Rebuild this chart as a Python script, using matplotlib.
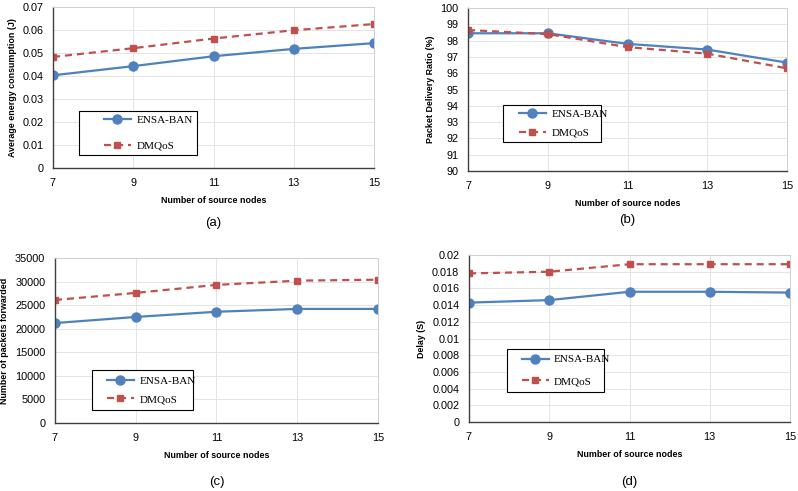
import matplotlib
matplotlib.use("Agg")
import matplotlib.pyplot as plt
from matplotlib.patches import Rectangle

nodes = [7, 9, 11, 13, 15]

energy_ensa = [0.0403, 0.0443, 0.0486, 0.0518, 0.0543]
energy_dmqos = [0.0483, 0.0521, 0.0563, 0.0599, 0.0626]

pdr_ensa = [98.45, 98.45, 97.8, 97.45, 96.65]
pdr_dmqos = [98.65, 98.4, 97.6, 97.2, 96.3]

fwd_ensa = [21200, 22500, 23600, 24200, 24200]
fwd_dmqos = [26100, 27600, 29300, 30200, 30400]

delay_ensa = [0.0143, 0.0146, 0.0156, 0.0156, 0.0155]
delay_dmqos = [0.0178, 0.0180, 0.0189, 0.0189, 0.0189]

BLUE = "#4F81BD"
RED = "#C0504D"
TICK_FONT = "Liberation Sans"

fig = plt.figure(figsize=(7.98, 4.91), dpi=100)


def panel(rect, ensa, dmqos, ylim, yticks, ytick_labels, ylabel, letter,
          leg_box, leg_inset, leg_spacing, letter_y):
    ax = fig.add_axes(rect)
    ax.plot(nodes, ensa, color=BLUE, lw=1.6, marker="o", ms=6.5, label="ENSA-BAN")
    ax.plot(nodes, dmqos, color=RED, lw=1.6, ls=(0, (3.2, 2.2)), marker="s", ms=4.3, label="DMQoS")
    ax.set_xlim(7, 15)
    ax.set_ylim(*ylim)
    ax.set_xticks(nodes)
    ax.set_yticks(yticks)
    ax.set_yticklabels(ytick_labels)
    ax.grid(True, color="#e4e4e4", lw=0.7)
    ax.set_axisbelow(True)
    for s in ["top", "right"]:
        ax.spines[s].set_color("#d0d0d0")
        ax.spines[s].set_linewidth(0.7)
    for s in ["left", "bottom"]:
        ax.spines[s].set_color("#404040")
        ax.spines[s].set_linewidth(1.0)
    ax.tick_params(length=0, labelsize=7.8, pad=7)
    for t in ax.get_xticklabels() + ax.get_yticklabels():
        t.set_fontfamily(TICK_FONT)
    ax.set_xlabel("Number of source nodes", fontsize=6.4, fontweight="bold",
                  fontfamily=TICK_FONT, labelpad=6)
    ax.set_ylabel(ylabel, fontsize=6.4, fontweight="bold", fontfamily=TICK_FONT, labelpad=4)

    # legend frame drawn separately so the entries can sit off-centre like the original
    x0, y0, w, h = leg_box
    ax.add_patch(Rectangle((x0, y0), w, h, transform=ax.transAxes, facecolor="white",
                           edgecolor="black", lw=0.8, zorder=4))
    leg = ax.legend(loc="center left", bbox_to_anchor=(x0 + leg_inset, y0 + h / 2),
                    prop={"family": "Liberation Serif", "size": 8}, frameon=False,
                    handlelength=2.4, handletextpad=0.5, labelspacing=leg_spacing,
                    borderpad=0, borderaxespad=0)
    leg.set_zorder(5)
    ax.text(0.5, letter_y, letter, transform=ax.transAxes, ha="center", va="center",
            fontsize=9.5, fontfamily=TICK_FONT)
    return ax


panel([0.0664, 0.6578, 0.4023, 0.3279], energy_ensa, energy_dmqos, (0, 0.07),
      [0, 0.01, 0.02, 0.03, 0.04, 0.05, 0.06, 0.07],
      ["0", "0.01", "0.02", "0.03", "0.04", "0.05", "0.06", "0.07"],
      "Average energy consumption (J)", "(a)", (0.081, 0.081, 0.368, 0.273), 0.078, 1.45, -0.34)

panel([0.5865, 0.6517, 0.3997, 0.3320], pdr_ensa, pdr_dmqos, (90, 100),
      list(range(90, 101)), [str(v) for v in range(90, 101)],
      "Packet Delivery Ratio (%)", "(b)", (0.11, 0.178, 0.307, 0.227), 0.05, 0.8, -0.30)

panel([0.0689, 0.1385, 0.4048, 0.3360], fwd_ensa, fwd_dmqos, (0, 35000),
      list(range(0, 35001, 5000)), [str(v) for v in range(0, 35001, 5000)],
      "Number of packets forwarded", "(c)", (0.115, 0.079, 0.312, 0.242), 0.046, 0.8, -0.36)

panel([0.5877, 0.1405, 0.4023, 0.3401], delay_ensa, delay_dmqos, (0, 0.02),
      [i * 0.002 for i in range(11)],
      ["0", "0.002", "0.004", "0.006", "0.008", "0.01", "0.012", "0.014", "0.016", "0.018", "0.02"],
      "Delay (S)", "(d)", (0.118, 0.18, 0.302, 0.257), 0.047, 1.08, -0.36)

fig.savefig("out.png", dpi=100)
